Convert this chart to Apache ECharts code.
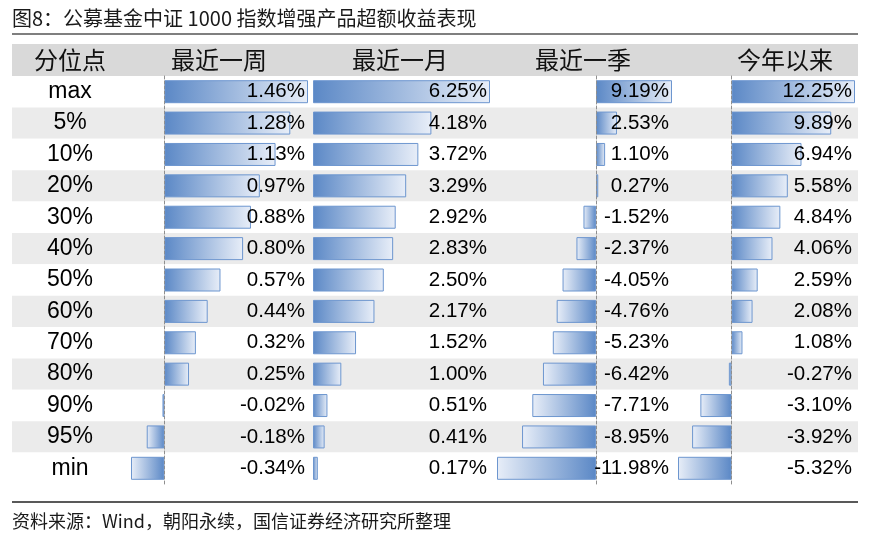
<!DOCTYPE html>
<html>
<head>
<meta charset="UTF-8">
<title>公募基金中证1000指数增强产品超额收益表现</title>
<script src="https://cdn.jsdelivr.net/npm/echarts@6/dist/echarts.min.js"></script>
<style>
  html, body { margin: 0; padding: 0; background: #fff; }
  #chart { width: 880px; height: 541px; }
</style>
</head>
<body>
<div id="chart"></div>
<script type="text/javascript">
    // 分位点
    var rows = ['max', '5%', '10%', '20%', '30%', '40%', '50%', '60%', '70%', '80%', '90%', '95%', 'min'];
    var headers = ['分位点', '最近一周', '最近一月', '最近一季', '今年以来'];
    // 各区间超额收益（%）
    var week    = [1.46, 1.28, 1.13, 0.97, 0.88, 0.80, 0.57, 0.44, 0.32, 0.25, -0.02, -0.18, -0.34];
    var month   = [6.25, 4.18, 3.72, 3.29, 2.92, 2.83, 2.50, 2.17, 1.52, 1.00, 0.51, 0.41, 0.17];
    var quarter = [9.19, 2.53, 1.10, 0.27, -1.52, -2.37, -4.05, -4.76, -5.23, -6.42, -7.71, -8.95, -11.98];
    var ytd     = [12.25, 9.89, 6.94, 5.58, 4.84, 4.06, 2.59, 2.08, 1.08, -0.27, -3.10, -3.92, -5.32];

    var cols = [week, month, quarter, ytd];
    // 每列的横向位置 [left, width]
    var colBox = [[131, 177], [313, 177], [497, 175], [678, 177]];
    var headerX = [70, 219, 400, 583, 785];

    var TOP = 76, HEIGHT = 408;
    var numFont = '"Liberation Sans", Arial, sans-serif';
    var cjkFont = '"Noto Sans CJK SC", sans-serif';

    function grad(neg) {
        var dark = '#5b88c6', light = '#e8eef8';
        return new echarts.graphic.LinearGradient(0, 0, 1, 0, neg
            ? [{ offset: 0, color: light }, { offset: 1, color: dark }]
            : [{ offset: 0, color: dark }, { offset: 1, color: light }]);
    }

    var grid = [{ left: 12, width: 846, top: TOP, height: HEIGHT }];
    var xAxis = [{ gridIndex: 0, type: 'value', show: false, min: 0, max: 1 }];
    var yAxis = [{
        gridIndex: 0, type: 'category', data: rows, inverse: true,
        axisLine: { show: false }, axisTick: { show: false },
        axisLabel: {
            inside: true, margin: 58, align: 'center',
            color: '#000', fontSize: 23, fontFamily: numFont
        },
        splitArea: { show: true, areaStyle: { color: ['#ffffff', '#ebebeb'] } }
    }];
    var series = [];

    cols.forEach(function (vals, c) {
        var g = c + 1;
        var mn = Math.min(0, Math.min.apply(null, vals));
        var mx = Math.max.apply(null, vals);
        grid.push({ left: colBox[c][0], width: colBox[c][1], top: TOP, height: HEIGHT });
        xAxis.push({ gridIndex: g, type: 'value', show: false, min: mn, max: mx });
        // 零轴（虚线）
        yAxis.push({
            gridIndex: g, type: 'category', data: rows, inverse: true, position: 'left',
            axisLine: {
                show: mn < 0, onZero: true,
                lineStyle: { color: '#8f8f8f', width: 1, type: [3, 2] }
            },
            axisTick: { show: false }, axisLabel: { show: false }, z: 6
        });
        // 数值标签
        yAxis.push({
            gridIndex: g, type: 'category', data: rows, inverse: true, position: 'right',
            axisLine: { show: false, onZero: false }, axisTick: { show: false },
            axisLabel: {
                inside: true, margin: 3, color: '#000', fontSize: 20.5, fontFamily: numFont,
                formatter: function (v, i) { return vals[i].toFixed(2) + '%'; }
            },
            z: 10
        });
        series.push({
            type: 'bar',
            xAxisIndex: g,
            yAxisIndex: yAxis.length - 2,
            barWidth: 23,
            silent: true,
            itemStyle: { borderColor: '#6d96cf', borderWidth: 1 },
            data: vals.map(function (v) {
                return { value: v, itemStyle: { color: grad(v < 0) } };
            })
        });
    });

    var graphics = [
        { type: 'text', x: 12, y: 18, style: { text: '图8：公募基金中证 1000 指数增强产品超额收益表现', font: '20px ' + cjkFont, fill: '#1a1a1a', verticalAlign: 'middle' } },
        { type: 'line', shape: { x1: 12, y1: 34, x2: 858, y2: 34 }, style: { stroke: '#555', lineWidth: 1.5 } },
        { type: 'rect', shape: { x: 12, y: 44, width: 846, height: 32 }, style: { fill: '#d9d9d9' }, z: -1 },
        { type: 'line', shape: { x1: 12, y1: 502, x2: 858, y2: 502 }, style: { stroke: '#222', lineWidth: 1.5 } },
        { type: 'text', x: 12, y: 521, style: { text: '资料来源：Wind，朝阳永续，国信证券经济研究所整理', font: '18px ' + cjkFont, fill: '#1a1a1a', verticalAlign: 'middle' } }
    ];
    headers.forEach(function (h, i) {
        graphics.push({
            type: 'text', x: headerX[i], y: 60,
            style: { text: h, font: '24px ' + cjkFont, fill: '#111', align: 'center', verticalAlign: 'middle' }
        });
    });

    var myChart = echarts.init(document.getElementById('chart'));
    var option = {
        backgroundColor: '#ffffff',
        animation: false,
        grid: grid,
        xAxis: xAxis,
        yAxis: yAxis,
        series: series,
        graphic: graphics
    };
    myChart.setOption(option);
</script>
</body>
</html>
